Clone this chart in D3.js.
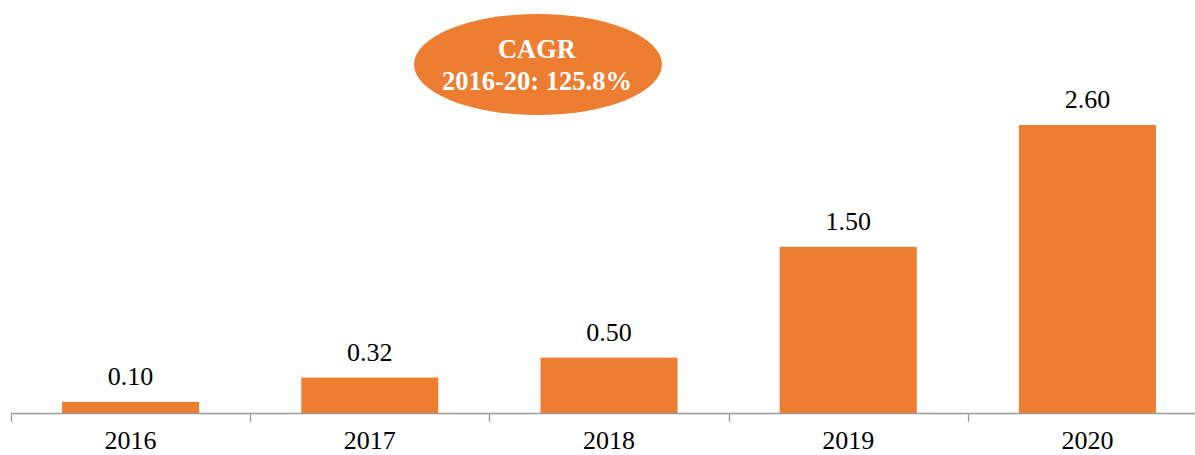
<!DOCTYPE html>
<html>
<head>
<meta charset="utf-8">
<script src="https://cdn.jsdelivr.net/npm/d3@7"></script>
<style>
  html, body { margin: 0; padding: 0; background: #fff; }
  svg { display: block; }
</style>
</head>
<body>
<svg id="chart" width="1195" height="455"></svg>
<script>
// Yearly values
const years = ["2016", "2017", "2018", "2019", "2020"];
const values = [0.10, 0.32, 0.50, 1.50, 2.60];
const cagrLines = ["CAGR", "2016-20: 125.8%"];

const svg = d3.select("#chart");
const orange = "#ED7D31";
const font = "'Liberation Serif', 'Times New Roman', serif";

const x = d3.scaleBand()
  .domain(years)
  .range([11, 1207])
  .paddingInner(0.427)
  .paddingOuter(0.2135);

const y = d3.scaleLinear()
  .domain([0, 2.6])
  .range([413, 125]);

// Bars
svg.append("g").selectAll("rect")
  .data(years)
  .join("rect")
  .attr("x", (d) => x(d))
  .attr("y", (d, i) => y(values[i]))
  .attr("width", x.bandwidth())
  .attr("height", (d, i) => y(0) - y(values[i]))
  .attr("fill", orange);

// Value labels
svg.append("g").selectAll("text")
  .data(years)
  .join("text")
  .attr("x", (d) => x(d) + x.bandwidth() / 2)
  .attr("y", (d, i) => y(values[i]) - 17)
  .attr("text-anchor", "middle")
  .attr("font-family", font)
  .attr("font-size", 26)
  .attr("fill", "#000")
  .text((d, i) => values[i].toFixed(2));

// Category axis: baseline with ticks on band edges
const axisColor = "#9a9a9a";
const edges = years.map((d) => x(d) - x.step() * x.paddingInner() / 2);
edges.push(x.range()[1]);
const axis = svg.append("g");
axis.append("line")
  .attr("x1", x.range()[0]).attr("x2", x.range()[1])
  .attr("y1", y(0) + 0.5).attr("y2", y(0) + 0.5)
  .attr("stroke", axisColor).attr("stroke-width", 1.3);
axis.selectAll("line.tick")
  .data(edges)
  .join("line")
  .attr("class", "tick")
  .attr("x1", (d) => Math.round(d) + 0.5).attr("x2", (d) => Math.round(d) + 0.5)
  .attr("y1", y(0)).attr("y2", y(0) + 9)
  .attr("stroke", axisColor).attr("stroke-width", 1.3);
axis.selectAll("text")
  .data(years)
  .join("text")
  .attr("x", (d) => x(d) + x.bandwidth() / 2)
  .attr("y", 449)
  .attr("text-anchor", "middle")
  .attr("font-family", font)
  .attr("font-size", 26)
  .attr("fill", "#000")
  .text((d) => d);

// CAGR callout
const badge = svg.append("g");
badge.append("ellipse")
  .attr("cx", 538).attr("cy", 64.5)
  .attr("rx", 124).attr("ry", 50.5)
  .attr("fill", orange);
badge.selectAll("text")
  .data(cagrLines)
  .join("text")
  .attr("x", 537)
  .attr("y", (d, i) => 58 + i * 32)
  .attr("text-anchor", "middle")
  .attr("font-family", font)
  .attr("font-weight", "bold")
  .attr("font-size", 26.5)
  .attr("fill", "#fff")
  .text((d) => d);
</script>
</body>
</html>
